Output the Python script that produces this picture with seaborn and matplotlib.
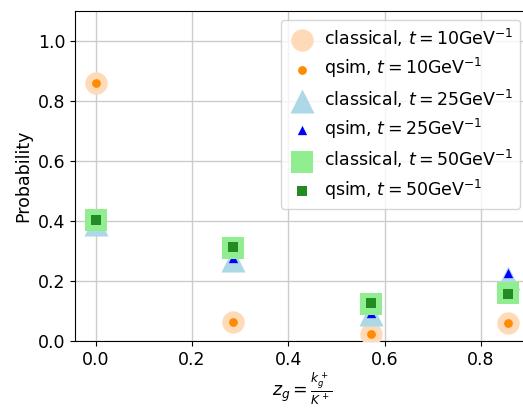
import matplotlib
matplotlib.use("Agg")
import matplotlib.pyplot as plt
import seaborn as sns
import numpy as np

zg = [0.0, 2/7, 4/7, 6/7]

classical_10 = [0.86, 0.064, 0.024, 0.060]
qsim_10 = [0.86, 0.064, 0.022, 0.060]
classical_25 = [0.39, 0.27, 0.09, 0.21]
qsim_25 = [0.40, 0.277, 0.095, 0.227]
classical_50 = [0.405, 0.31, 0.125, 0.16]
qsim_50 = [0.405, 0.312, 0.127, 0.157]

labels = [
    r"classical, $t=10\mathrm{GeV}^{-1}$",
    r"qsim, $t=10\mathrm{GeV}^{-1}$",
    r"classical, $t=25\mathrm{GeV}^{-1}$",
    r"qsim, $t=25\mathrm{GeV}^{-1}$",
    r"classical, $t=50\mathrm{GeV}^{-1}$",
    r"qsim, $t=50\mathrm{GeV}^{-1}$",
]

plt.rcParams["font.size"] = 12.5

fig = plt.figure(figsize=(5.23, 4.09), dpi=100)
ax = fig.add_axes([75/523, 1 - 341/409, (529-75)/523, (341-11)/409])
ax.set_axisbelow(True)
ax.grid(True, color="#cccccc", linewidth=1)

series = [
    (classical_10, "o", "peachpuff", 260),
    (qsim_10, "o", "darkorange", 40),
    (classical_25, "^", "lightblue", 300),
    (qsim_25, "^", "blue", 45),
    (classical_50, "s", "lightgreen", 260),
    (qsim_50, "s", "forestgreen", 45),
]
for (vals, m, c, s), lab in zip(series, labels):
    sns.scatterplot(x=zg, y=vals, marker=m, color=c, s=s, linewidth=0,
                    label=lab, ax=ax, zorder=3)

ax.set_xlim(-0.043, 0.9)
ax.set_ylim(0, 1.1)
ax.set_xticks([0.0, 0.2, 0.4, 0.6, 0.8])
ax.set_yticks([0.0, 0.2, 0.4, 0.6, 0.8, 1.0])
ax.set_ylabel("Probability")
ax.set_xlabel(r"$z_g = \frac{k_g^+}{K^+}$", labelpad=1.5)
ax.legend(loc="upper right", fontsize=12.5, handletextpad=0.4, labelspacing=0.42,
          handlelength=1.7)

fig.savefig("out.png", dpi=100)
